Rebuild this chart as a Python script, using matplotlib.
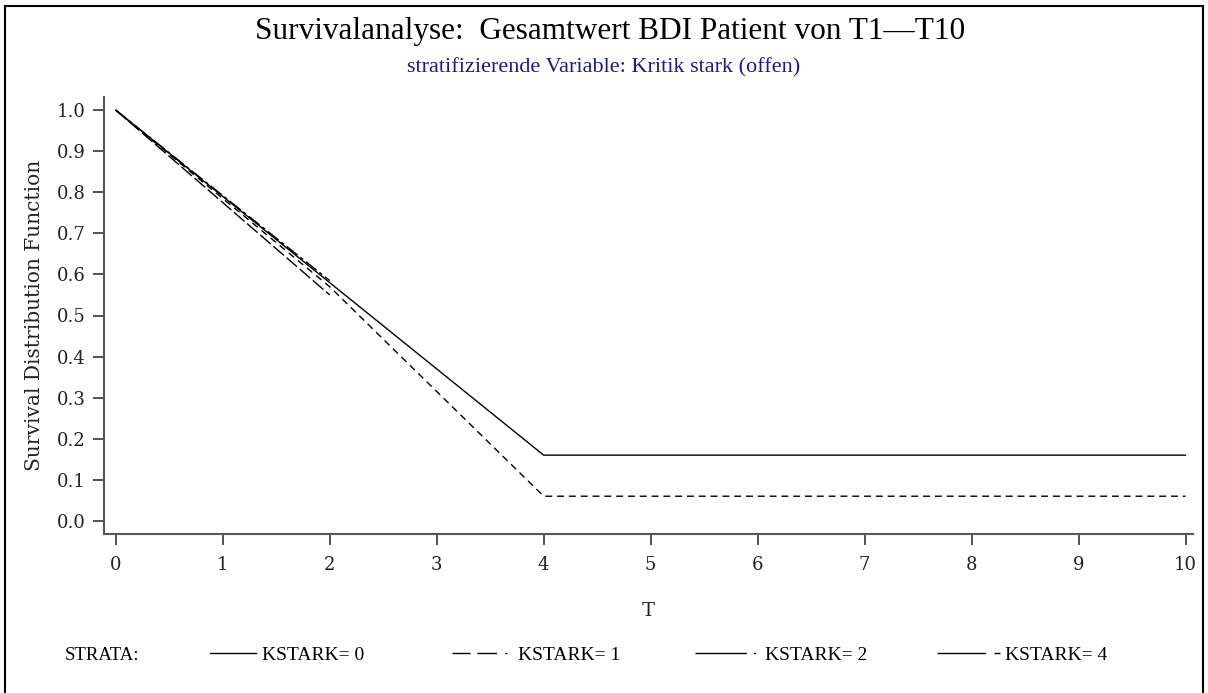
import matplotlib
matplotlib.use("Agg")
import matplotlib.pyplot as plt
from matplotlib.lines import Line2D

# Data
t0 = [0, 1, 2, 3, 4, 10]
s0 = [1.0, 0.79, 0.58, 0.37, 0.16, 0.16]
t1 = [0, 1, 2, 3, 4, 10]
s1 = [1.0, 0.785, 0.57, 0.315, 0.06, 0.06]
t2 = [0, 1, 2]
s2 = [1.0, 0.775, 0.55]
t4 = [0, 1, 2]
s4 = [1.0, 0.792, 0.585]
strata_labels = ["KSTARK= 0", "KSTARK= 1", "KSTARK= 2", "KSTARK= 4"]
xticks = list(range(0, 11))
yticks = [0.0, 0.1, 0.2, 0.3, 0.4, 0.5, 0.6, 0.7, 0.8, 0.9, 1.0]

W, H = 1208, 693
fig = plt.figure(figsize=(W / 100, H / 100), dpi=100)
serif = ["DejaVu Serif"]
title_font = ["Liberation Serif"]

def fx(px):
    return px / W

def fy(py):
    return 1 - py / H

ax = fig.add_axes([fx(104), fy(534), fx(1193) - fx(104), fy(97) - fy(534)])

styles = [
    dict(ls="-"),
    dict(ls=(0, (5, 3.5))),
    dict(ls=(0, (10, 2.5))),
    dict(ls=(0, (10, 2.5, 2.5, 2.5))),
]
series = [(t0, s0), (t1, s1), (t2, s2), (t4, s4)]
for (t, s), st in zip(series, styles):
    ax.plot(t, s, color="black", lw=1.0, **st)

ax.set_xlim(-0.11, 10.07)
ax.set_ylim(-0.032, 1.032)
ax.set_xticks(xticks)
ax.set_yticks(yticks)
ax.set_xticklabels([str(v) for v in xticks], family=serif, fontsize=13, color="#222222")
ax.set_yticklabels([f"{v:.1f}" for v in yticks], family=serif, fontsize=13, color="#222222")
for side in ["top", "right"]:
    ax.spines[side].set_visible(False)
for side in ["left", "bottom"]:
    ax.spines[side].set_color("#555555")
    ax.spines[side].set_linewidth(1.5)
ax.tick_params(axis="both", direction="out", length=8, width=1.3, color="#444444", pad=5)
ax.tick_params(axis="x", pad=8)

# Titles
fig.text(fx(610), fy(32), "Survivalanalyse:  Gesamtwert BDI Patient von T1\u2014T10",
         ha="center", va="center", family=title_font, fontsize=22.5, color="black")
fig.text(fx(604), fy(68), "stratifizierende Variable: Kritik stark (offen)",
         ha="center", va="center", family=title_font, fontsize=16, color="#1a1a8a")

# Axis labels
fig.text(fx(648), fy(611), "T", ha="center", va="center", family=serif, fontsize=14, color="#222222")
fig.text(fx(35), fy(315), "Survival Distribution Function", ha="center", va="center",
         rotation=90, family=serif, fontsize=14.5, color="#222222")

# Legend (SAS style samples)
ly = fy(656)
fig.text(fx(65), ly, "STRATA:", ha="left", va="center", family=title_font, fontsize=13.5)
leg_x = [(210, 256, 262), (452, 512, 518), (695, 760, 765), (937, 1000, 1005)]
leg_styles = [
    dict(ls="-"),
    dict(ls=(0, (13, 5, 14, 6, 1.5, 50))),
    dict(ls=(0, (37, 5, 1.5, 50))),
    dict(ls=(0, (35, 6, 5, 50))),
]
for (x0, x1, xt), st, lab in zip(leg_x, leg_styles, strata_labels):
    fig.add_artist(Line2D([fx(x0), fx(x1)], [ly + 0.004, ly + 0.004], color="black", lw=1.0, **st))
    fig.text(fx(xt), ly, lab, ha="left", va="center", family=title_font, fontsize=14)

# Frame
for xs, ys in [([fx(5), fx(5)], [0, fy(6)]), ([fx(5), fx(1203)], [fy(6), fy(6)]),
               ([fx(1203), fx(1203)], [fy(6), 0])]:
    fig.add_artist(Line2D(xs, ys, color="black", lw=1.5))

fig.savefig("out.png", dpi=100)
